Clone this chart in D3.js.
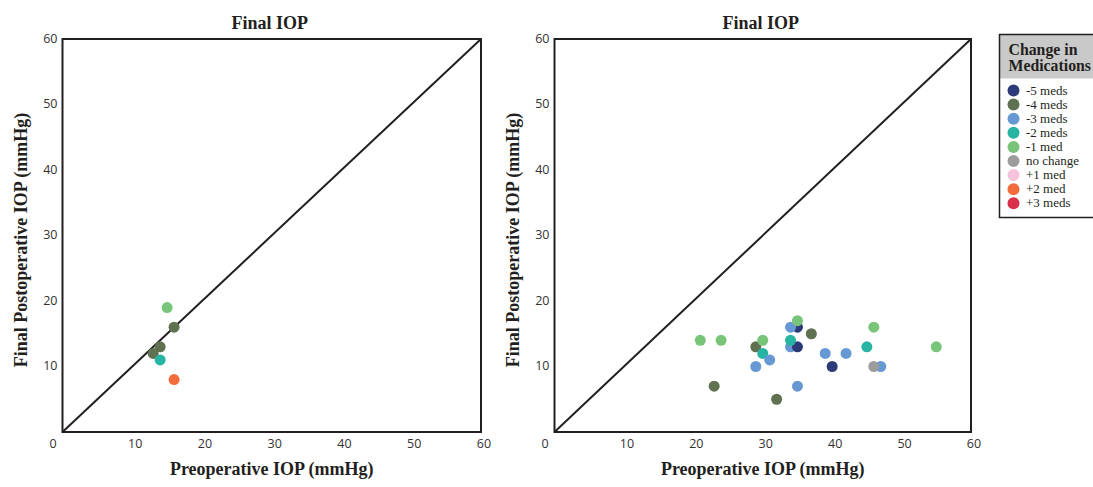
<!DOCTYPE html>
<html>

<head>
    <meta charset="UTF-8">
    <script src="https://d3js.org/d3.v7.min.js"></script>
    <style>
        body { margin: 0; background: #fff; }
        svg { display: block; }
    </style>
</head>

<body>
    <svg></svg>

    <script>
        let width = 1093, height = 487;

        // legend categories and colours
        const medCategories = ["-5 meds", "-4 meds", "-3 meds", "-2 meds", "-1 med", "no change", "+1 med", "+2 med", "+3 meds"];
        const medColors = ["#2e3a78", "#5f7150", "#6699d4", "#27b5a3", "#78c57a", "#9c9c9c", "#f7c3db", "#f26c3c", "#da2f49"];

        // left panel
        const leftPre = [15, 16, 14, 13, 14, 16];
        const leftPost = [19, 16, 13, 12, 11, 8];
        const leftMed = ["-1 med", "-4 meds", "-4 meds", "-4 meds", "-2 meds", "+2 med"];

        // right panel
        const rightPre = [21, 24, 23, 29, 30, 30, 29, 31, 32, 35, 34, 35, 34, 35, 34, 35, 37, 39, 40, 42, 46, 45, 47, 46, 55];
        const rightPost = [14, 14, 7, 13, 14, 12, 10, 11, 5, 16, 16, 17, 13, 13, 14, 7, 15, 12, 10, 12, 16, 13, 10, 10, 13];
        const rightMed = ["-1 med", "-1 med", "-4 meds", "-4 meds", "-1 med", "-2 meds", "-3 meds", "-3 meds", "-4 meds",
            "-5 meds", "-3 meds", "-1 med", "-3 meds", "-5 meds", "-2 meds", "-3 meds", "-4 meds", "-3 meds", "-5 meds",
            "-3 meds", "-1 med", "-2 meds", "-3 meds", "no change", "-1 med"];

        const ticks = [10, 20, 30, 40, 50, 60];

        let svg = d3.select("svg")
            .attr("width", width)
            .attr("height", height)

        let color = d3.scaleOrdinal().domain(medCategories).range(medColors);

        const serif = "'Liberation Serif', 'Times New Roman', serif";
        const sans = "'Open Sans', 'Noto Sans', sans-serif";

        function panel(x0, x1, pre, post, med) {
            let x = d3.scaleLinear().domain([0, 60]).range([x0, x1]);
            let y = d3.scaleLinear().domain([0, 60]).range([432, 39]);
            let g = svg.append("g");
            let cx = (x0 + x1) / 2;

            g.append("text")
                .attr("x", cx - 2).attr("y", 28.5)
                .attr("text-anchor", "middle")
                .style("font-family", serif).style("font-weight", "bold")
                .style("font-size", "18px").attr("fill", "#231f20")
                .text("Final IOP");

            // tick labels
            g.selectAll(".xt").data(ticks).enter().append("text")
                .attr("x", d => x(d) + 3).attr("y", 447.5)
                .attr("text-anchor", "middle")
                .style("font-family", sans).style("font-size", "12.5px").attr("fill", "#333")
                .text(d => d);
            g.selectAll(".yt").data(ticks).enter().append("text")
                .attr("x", x0 - 5).attr("y", d => y(d) + 3.5)
                .attr("text-anchor", "end")
                .style("font-family", sans).style("font-size", "12.5px").attr("fill", "#333")
                .text(d => d);
            g.append("text")
                .attr("x", x0 - 9.5).attr("y", 447.5)
                .attr("text-anchor", "middle")
                .style("font-family", sans).style("font-size", "12.5px").attr("fill", "#333")
                .text("0");

            // axis labels
            g.append("text")
                .attr("x", cx).attr("y", 475)
                .attr("text-anchor", "middle")
                .style("font-family", serif).style("font-weight", "bold")
                .style("font-size", "18px").attr("fill", "#231f20")
                .text("Preoperative IOP (mmHg)");
            g.append("text")
                .attr("transform", "translate(" + (x0 - 36) + "," + 240 + ") rotate(-90)")
                .attr("text-anchor", "middle")
                .style("font-family", serif).style("font-weight", "bold")
                .style("font-size", "18px").attr("fill", "#231f20")
                .text("Final Postoperative IOP (mmHg)");

            // frame and identity line
            g.append("rect")
                .attr("x", x(0)).attr("y", y(60))
                .attr("width", x(60) - x(0)).attr("height", y(0) - y(60))
                .attr("fill", "none").attr("stroke", "#231f20").attr("stroke-width", 2);
            g.append("line")
                .attr("x1", x(0)).attr("y1", y(0)).attr("x2", x(60)).attr("y2", y(60))
                .attr("stroke", "#231f20").attr("stroke-width", 2);

            g.selectAll("circle")
                .data(pre.map((d, i) => ({ pre: d, post: post[i], med: med[i] })))
                .enter()
                .append("circle")
                .attr("cx", d => x(d.pre))
                .attr("cy", d => y(d.post))
                .attr("r", 5.5)
                .attr("fill", d => color(d.med));
        }

        panel(62.5, 481, leftPre, leftPost, leftMed);
        panel(554.5, 971, rightPre, rightPost, rightMed);

        // legend
        let lg = svg.append("g");
        lg.append("rect")
            .attr("x", 999.5).attr("y", 34.5).attr("width", 110).attr("height", 44)
            .attr("fill", "#c9c9c9");
        lg.append("rect")
            .attr("x", 999.5).attr("y", 34.5).attr("width", 110).attr("height", 183)
            .attr("fill", "none").attr("stroke", "#231f20").attr("stroke-width", 1.5);
        ["Change in", "Medications"].forEach((t, i) => {
            lg.append("text")
                .attr("x", 1008.5).attr("y", 54.5 + i * 16.5)
                .style("font-family", serif).style("font-weight", "bold")
                .style("font-size", "15.8px").attr("fill", "#231f20")
                .text(t);
        });
        let items = lg.selectAll(".item").data(medCategories).enter().append("g")
            .attr("transform", (d, i) => "translate(1013.5," + (90.5 + i * 14.1) + ")");
        items.append("circle").attr("r", 6).attr("fill", d => color(d));
        items.append("text")
            .attr("x", 12.5).attr("y", 4)
            .style("font-family", serif).style("font-size", "13px").attr("fill", "#231f20")
            .text(d => d);
    </script>

</body>

</html>
